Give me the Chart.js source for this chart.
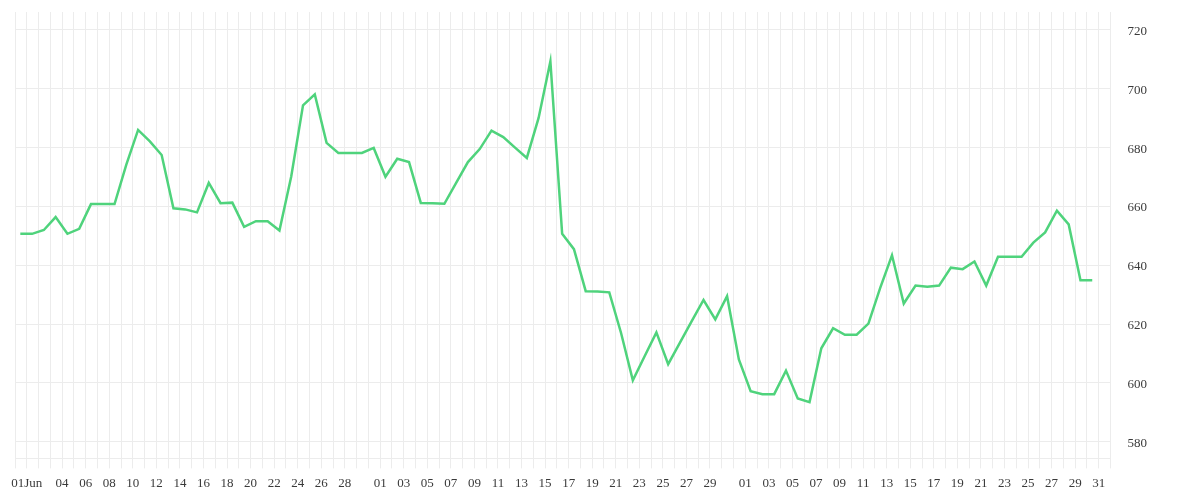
<!DOCTYPE html>
<html>
<head>
<meta charset="utf-8">
<script src="https://cdn.jsdelivr.net/npm/chart.js@4/dist/chart.umd.min.js"></script>
<style>
  html, body { margin: 0; padding: 0; background: #ffffff; }
  #wrap { width: 1200px; height: 500px; }
</style>
</head>
<body>
<div id="wrap"><canvas id="c" width="1200" height="500"></canvas></div>
<script>
// ---- data ----
const months = [['Jun', 30], ['Jul', 31], ['Aug', 31]];
const values = [
  650.7, 650.7, 652.0, 656.4, 650.7, 652.4, 660.8, 660.8, 660.8, 674.2,
  686.0, 682.1, 677.5, 659.4, 659.0, 658.0, 668.0, 661.1, 661.3, 653.1,
  655.0, 655.0, 651.8, 670.2, 694.4, 698.1, 681.6, 678.2, 678.2, 678.2,
  679.9, 670.1, 676.2, 675.1, 661.2, 661.1, 660.9, 668.0, 675.1, 679.5,
  685.8, 683.6, 680.0, 676.5, 690.1, 709.3, 650.7, 645.5, 631.2, 631.1,
  630.8, 617.0, 600.9, 609.1, 617.2, 606.4, 613.7, 621.0, 628.2, 621.6,
  629.5, 608.0, 597.2, 596.2, 596.2, 604.2, 594.7, 593.5, 611.8, 618.6,
  616.4, 616.4, 620.2, 632.3, 643.4, 627.0, 633.1, 632.7, 633.1, 639.2,
  638.7, 641.3, 633.1, 642.9, 642.9, 642.9, 647.7, 651.2, 658.6, 653.9,
  634.9, 634.9
];
const tickDates = [
  'Jun 01','Jun 04','Jun 06','Jun 08','Jun 10','Jun 12','Jun 14','Jun 16','Jun 18','Jun 20',
  'Jun 22','Jun 24','Jun 26','Jun 28',
  'Jul 01','Jul 03','Jul 05','Jul 07','Jul 09','Jul 11','Jul 13','Jul 15','Jul 17','Jul 19',
  'Jul 21','Jul 23','Jul 25','Jul 27','Jul 29',
  'Aug 01','Aug 03','Aug 05','Aug 07','Aug 09','Aug 11','Aug 13','Aug 15','Aug 17','Aug 19',
  'Aug 21','Aug 23','Aug 25','Aug 27','Aug 29','Aug 31'
];
const tickTexts = [
  '01Jun','04','06','08','10','12','14','16','18','20','22','24','26','28',
  '01','03','05','07','09','11','13','15','17','19','21','23','25','27','29',
  '01','03','05','07','09','11','13','15','17','19','21','23','25','27','29','31'
];
const yTicks = [580, 600, 620, 640, 660, 680, 700, 720];
const yMin = 574.36, yMax = 726.1;

// ---- build day categories ----
const days = [];
months.forEach(([m, n]) => { for (let d = 1; d <= n; d++) days.push(m + ' ' + String(d).padStart(2, '0')); });
// grid index: 0 = start of May 31, 1 = start of Jun 01, ...
const gridIndex = (label) => days.indexOf(label) + 1;
const pointShift = -0.55; // data timestamps sit before the day boundary
const points = values.map((v, i) => ({ x: gridIndex(days[i]) + pointShift, y: v }));
const tickMap = {};
tickDates.forEach((d, i) => { tickMap[gridIndex(d)] = tickTexts[i]; });

const gridColor = '#ececec';
const textColor = '#3a3a3a';
const font = { family: "'Liberation Serif', 'DejaVu Serif', serif", size: 13 };

new Chart(document.getElementById('c'), {
  type: 'line',
  data: {
    datasets: [{
      data: points,
      borderColor: '#4fd37c',
      borderWidth: 2.5,
      pointRadius: 0,
      tension: 0,
      fill: false
    }]
  },
  options: {
    responsive: false,
    devicePixelRatio: 1,
    animation: false,
    layout: { padding: { left: 15, right: 53, top: 12, bottom: 2 } },
    plugins: { legend: { display: false }, tooltip: { enabled: false } },
    scales: {
      x: {
        type: 'linear',
        min: 0,
        max: days.length + 1,
        grid: { color: gridColor, lineWidth: 1, tickLength: 10, drawTicks: true, tickColor: gridColor },
        border: { display: true, color: gridColor },
        ticks: {
          stepSize: 1,
          autoSkip: false,
          maxRotation: 0,
          padding: 7,
          color: textColor,
          font: font,
          callback: (v) => tickMap[v] !== undefined ? tickMap[v] : ''
        }
      },
      y: {
        position: 'right',
        min: yMin,
        max: yMax,
        afterBuildTicks: (s) => { s.ticks = yTicks.map(v => ({ value: v })); },
        grid: { color: gridColor, drawTicks: true, tickLength: 17, tickColor: 'rgba(0,0,0,0)' },
        border: { display: false },
        ticks: { padding: 0, labelOffset: 1.5, color: textColor, font: font }
      }
    }
  }
});
</script>
</body>
</html>
